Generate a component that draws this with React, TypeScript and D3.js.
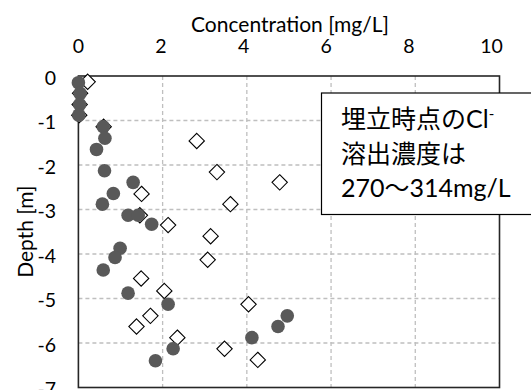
import React from "react";
import * as d3 from "d3";

const xTicks = [0, 2, 4, 6, 8, 10];
const yTicks = [0, -1, -2, -3, -4, -5, -6, -7];

// open diamonds: concentration, depth
const diamondConc = [0.22, 0.04, 0.03, 0.02, 0.6, 2.81, 3.29, 4.78, 1.5, 3.61, 1.46, 2.13, 3.14, 3.07, 1.49, 2.04, 4.04, 1.71, 1.38, 2.35, 3.47, 4.26];
const diamondDepth = [-0.13, -0.39, -0.64, -0.88, -1.14, -1.46, -2.16, -2.39, -2.65, -2.88, -3.13, -3.35, -3.6, -4.13, -4.55, -4.83, -5.13, -5.39, -5.63, -5.88, -6.13, -6.38];

// filled circles: concentration, depth
const circleConc = [0.0, 0.04, 0.03, 0.01, 0.59, 0.63, 0.43, 0.62, 1.3, 0.83, 0.57, 1.18, 1.42, 1.74, 0.99, 0.87, 0.59, 1.18, 2.13, 4.96, 4.74, 4.12, 2.25, 1.83];
const circleDepth = [-0.15, -0.39, -0.64, -0.88, -1.14, -1.4, -1.65, -2.13, -2.39, -2.64, -2.88, -3.13, -3.13, -3.33, -3.87, -4.08, -4.36, -4.88, -5.13, -5.39, -5.63, -5.88, -6.13, -6.4];

const noteLine1 = "埋立時点の";
const noteLine1b = "Cl";
const noteSup = "-";
const noteLine2 = "溶出濃度は";
const noteLine3 = "270〜314mg/L";

const xTitle = "Concentration [mg/L]";
const yTitle = "Depth [m]";

export default function App() {
  const W = 531, H = 390;
  const x = d3.scaleLinear().domain([0, 10]).range([78.4, 499.5]);
  const y = d3.scaleLinear().domain([0, -7]).range([76, 387.5]);
  const font = "Lato, 'Noto Sans CJK JP', sans-serif";
  const dia = d3.symbol().type(d3.symbolDiamond2).size(150);

  return (
    <svg width={W} height={H} style={{ position: "absolute", left: 0, top: 0, background: "#fff" }} fontFamily={font}>
      <rect x={0} y={0} width={W} height={H} fill="#fff" />
      {/* grid */}
      {xTicks.filter(t => t > 0 && t < 10).map(t => (
        <line key={"gx" + t} x1={x(t)} x2={x(t)} y1={y(0)} y2={y(-7)} stroke="#bfbfbf" strokeWidth={1.3} strokeDasharray="4,3" />
      ))}
      {yTicks.filter(t => t < 0 && t > -7).map(t => (
        <line key={"gy" + t} x1={x(0)} x2={x(10)} y1={y(t)} y2={y(t)} stroke="#bfbfbf" strokeWidth={1.3} strokeDasharray="4,3" />
      ))}
      {/* frame */}
      <rect x={x(0)} y={y(0)} width={x(10) - x(0)} height={y(-7) - y(0)} fill="none" stroke="#262626" strokeWidth={1.6} />
      {/* x ticks labels */}
      {xTicks.map(t => (
        <text key={"xt" + t} x={x(t) - t * 0.8} y={45} textAnchor="middle" dominantBaseline="central" fontSize={19.5} fill="#000">{t}</text>
      ))}
      <text x={290} y={23} textAnchor="middle" dominantBaseline="central" fontSize={21} fill="#000">{xTitle}</text>
      {yTicks.map(t => (
        <text key={"yt" + t} x={56} y={y(t) + 1} textAnchor="end" dominantBaseline="central" fontSize={19.5} fill="#000">{t}</text>
      ))}
      <text transform={`translate(24,${(y(0) + y(-7)) / 2}) rotate(-90)`} textAnchor="middle" dominantBaseline="central" fontSize={21} fill="#000">{yTitle}</text>
      {/* diamonds */}
      {diamondConc.map((c, i) => (
        <path key={"d" + i} d={dia() as string} transform={`translate(${x(c)},${y(diamondDepth[i])})`} fill="#fff" stroke="#000" strokeWidth={1.1} />
      ))}
      {/* circles */}
      {circleConc.map((c, i) => (
        <circle key={"c" + i} cx={x(c)} cy={y(circleDepth[i])} r={6.8} fill="#595959" />
      ))}
      {/* note box */}
      <rect x={321.5} y={93} width={215} height={121.5} fill="#fff" stroke="#000" strokeWidth={1.2} />
      <text x={341} y={128} fontSize={25} fill="#000">
        {noteLine1}{noteLine1b}<tspan fontSize={15} dy={-9}>{noteSup}</tspan>
      </text>
      <text x={341} y={163} fontSize={25} fill="#000">{noteLine2}</text>
      <text x={341} y={197} fontSize={25} fill="#000">{noteLine3}</text>
    </svg>
  );
}
